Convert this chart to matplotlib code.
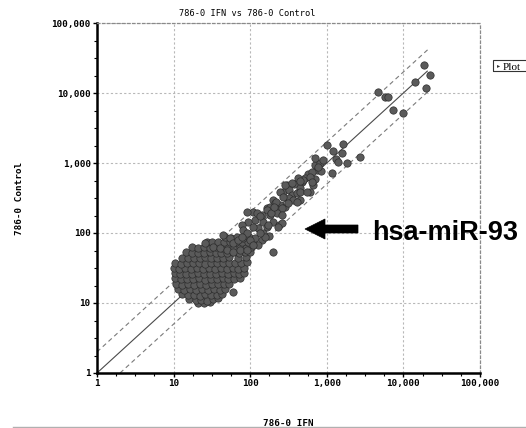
import matplotlib
matplotlib.use("Agg")
import matplotlib.pyplot as plt
from matplotlib.ticker import FixedLocator, FixedFormatter, NullFormatter
from matplotlib.patches import Polygon, Rectangle
from matplotlib.lines import Line2D

# ---------------- text ----------------
title = "786-0 IFN vs 786-0 Control"
x_label = "786-0 IFN"
y_label = "786-0 Control"
annot_label = "hsa-miR-93"
legend_label = "Plot"

major_ticks = [1, 10, 100, 1000, 10000, 100000]
major_tick_labels = ["1", "10", "100", "1,000", "10,000", "100,000"]

# fold-change guide lines: y = x, y = 2x, y = x/2
fold_change = 2
line_x_start = [1, 1, 2]
line_x_end = [20500, 21000, 22000]

# ---------------- data ----------------
# high / mid expression miRNAs (IFN, Control)
high_ifn = [18600, 22200, 14200, 19700, 4660, 5750, 6300, 7310, 9900,
            1000, 1630, 1200, 1580, 1320, 1380, 1840, 2710, 701, 815,
            750, 840, 1160, 565, 519, 480, 495, 701, 660, 370, 303, 447,
            604, 265, 318, 350, 410, 447, 318, 360, 447, 198, 211, 245,
            285, 167, 181, 701, 900, 760, 645, 604, 420, 447, 645, 555,
            285, 350, 245, 265, 410, 310, 167, 211, 260, 143, 181, 225,
            108, 91, 116, 147, 198, 94, 78, 126, 167, 235, 174, 198,
            122, 134, 187, 218, 204, 260, 108, 147, 80, 91, 143, 126,
            25.7, 44, 54.5, 59.5, 69, 78, 99, 108, 33, 40, 50, 59.5,
            73.6, 91, 59.5, 170, 260, 230, 156, 134]
high_ctrl = [25100, 18100, 14400, 11800, 10300, 8770, 8770, 5720, 5180,
             1810, 1870, 1480, 1390, 1140, 1030, 1000, 1220, 936, 1000,
             794, 764, 720, 700, 610, 535, 572, 590, 485, 500, 485, 440,
             390, 390, 411, 349, 370, 390, 316, 296, 296, 296, 270, 251,
             235, 228, 235, 1190, 1100, 870, 740, 630, 610, 550, 535, 390,
             485, 520, 390, 330, 276, 270, 213, 228, 228, 181, 181, 193,
             200, 200, 153, 143, 143, 143, 130, 118, 122, 130, 90, 53,
             193, 175, 193, 277, 235, 181, 122, 100, 110, 100, 79, 67,
             72, 94, 85, 72, 79, 88, 79, 67, 63, 61, 57, 53,
             57, 57, 14.4, 130, 139, 122, 88, 100]

# low expression cluster (IFN, Control)
cluster_ifn = [21, 25, 30,
               16, 19.5, 23, 27.5, 33, 38,
               13, 15.5, 18.5, 22, 26, 31, 37, 43,
               11.5, 13.8, 16.5, 19.7, 23.5, 28, 33.5, 40, 47,
               10.8, 12.9, 15.4, 18.5, 22, 26.5, 31.5, 37.5, 45, 53,
               10.5, 12.6, 15, 18, 21.5, 25.5, 30.5, 36.5, 43.5, 52, 62, 74,
               10.3, 12.3, 14.7, 17.6, 21, 25, 30, 36, 43, 51, 61, 72, 84,
               10, 11.8, 14.2, 17, 20.3, 24.3, 29, 34.7, 41.5, 49.5, 59, 70, 83,
               10.5, 12.5, 15, 18, 21.5, 25.7, 30.7, 36.7, 44, 52.5, 63, 75, 90,
               12.7, 15.2, 18.2, 21.8, 26, 31, 37, 44.5, 53, 69, 87,
               14.5, 17.3, 20.7, 24.7, 29.5, 35.3, 42, 50.5, 60, 72, 86, 100,
               17.5, 21, 25, 30, 36, 43, 51.5, 61.5, 73.5, 88, 103,
               27, 32, 38, 45.5, 54, 65, 78, 93, 110,
               47, 56, 67, 80, 96, 115]
cluster_ctrl = [10.1, 9.9, 10.2,
                11.3, 10.9, 11.2, 10.8, 11.4, 11.6,
                13.4, 12.8, 13.1, 12.7, 13.3, 12.9, 13.2, 13.6,
                15.9, 15.2, 15.7, 15.3, 15.8, 15.1, 15.6, 15.4, 16.0,
                18.9, 18.2, 18.7, 18.3, 18.8, 18.1, 18.6, 18.4, 18.9, 18.5,
                22.4, 21.7, 22.3, 21.8, 22.5, 21.6, 22.2, 21.9, 22.6, 21.8, 22.3, 23,
                26.5, 25.6, 26.3, 25.8, 26.6, 25.7, 26.2, 25.9, 26.7, 25.8, 26.4, 26, 27,
                31.5, 30.6, 31.3, 30.8, 31.6, 30.7, 31.2, 30.9, 31.7, 30.8, 31.4, 31, 32,
                37.6, 36.5, 37.3, 36.8, 37.7, 36.6, 37.2, 36.9, 37.8, 36.7, 37.5, 37, 38,
                44.6, 43.5, 44.3, 43.8, 44.7, 43.6, 44.2, 43.9, 44.8, 44, 45,
                52.8, 51.5, 52.4, 51.8, 52.9, 51.6, 52.3, 51.9, 53, 52, 53, 54,
                62.8, 61.4, 62.5, 61.7, 62.9, 61.5, 62.3, 61.8, 63, 62, 64,
                74.5, 73.2, 74.6, 73.5, 74.8, 73.4, 74.3, 73.8, 75,
                86.5, 85.2, 86.8, 85.5, 87, 86]

# ---------------- figure ----------------
W, H = 526, 428
fig = plt.figure(figsize=(W / 100, H / 100), dpi=100)
fig.patch.set_facecolor("white")
ax = fig.add_axes([97 / W, 1 - 373 / H, (480 - 97) / W, (373 - 23) / H])
ax.set_xscale("log")
ax.set_yscale("log")
ax.set_xlim(1, 100000)
ax.set_ylim(1, 100000)

# guide lines
for xs, xe, factor, style, col in [
        (line_x_start[0], line_x_end[0], 1, "-", "#4a4a4a"),
        (line_x_start[1], line_x_end[1], fold_change, (0, (4, 3)), "#7a7a7a"),
        (line_x_start[2], line_x_end[2], 1 / fold_change, (0, (4, 3)), "#7a7a7a")]:
    ax.plot([xs, xe], [xs * factor, xe * factor], linestyle=style,
            color=col, lw=0.8, zorder=2)

marker_kw = dict(s=28, c="#5a5a5a", edgecolors="#2e2e2e", linewidths=0.5,
                 zorder=3)
ax.scatter(cluster_ifn, cluster_ctrl, **marker_kw)
ax.scatter(high_ifn, high_ctrl, **marker_kw)

# grid & spines
ax.grid(True, which="major", color="#b8b8b8", linestyle=(0, (2, 2)), lw=0.8)
ax.set_axisbelow(True)
for s in ("left", "bottom"):
    ax.spines[s].set_linewidth(1.8)
    ax.spines[s].set_color("black")
for s in ("top", "right"):
    ax.spines[s].set_linestyle((0, (2, 2)))
    ax.spines[s].set_color("#8a8a8a")
    ax.spines[s].set_linewidth(0.9)

# ticks
minor_ticks = [10 ** (d + q / 4) for d in range(5) for q in (1, 2, 3)]
for axis in (ax.xaxis, ax.yaxis):
    axis.set_major_locator(FixedLocator(major_ticks))
    axis.set_major_formatter(FixedFormatter(major_tick_labels))
    axis.set_minor_locator(FixedLocator(minor_ticks))
    axis.set_minor_formatter(NullFormatter())
ax.tick_params(which="major", direction="out", length=3, width=1,
               color="black", labelsize=6.7, pad=1.5)
ax.tick_params(which="minor", direction="out", length=2.5, width=0.8,
               color="black")
for lab in ax.get_xticklabels() + ax.get_yticklabels():
    lab.set_fontfamily("DejaVu Sans Mono")
    lab.set_fontweight("bold")

# titles / labels
fig.text(247 / W, 1 - 14 / H, title, ha="center", va="center",
         fontsize=6.2, family="DejaVu Sans Mono")
fig.text(288 / W, 1 - 423 / H, x_label, ha="center", va="center",
         fontsize=6.7, family="DejaVu Sans Mono", weight="bold")
fig.text(20 / W, 1 - 198 / H, y_label, ha="center", va="center",
         rotation=90, fontsize=6.7, family="DejaVu Sans Mono", weight="bold")

# bottom separator line
fig.add_artist(Line2D([13 / W, 1.0], [1.5 / H, 1.5 / H], transform=fig.transFigure,
                      color="#b0b0b0", lw=1.0))

# legend stub box
fig.add_artist(Rectangle((493 / W, 1 - 71 / H), 40 / W, 11 / H,
                         transform=fig.transFigure, fill=False,
                         edgecolor="#333333", lw=0.8))
fig.text(497 / W, 1 - 66 / H, "\u25b8", ha="left", va="center",
         fontsize=4.5, family="DejaVu Sans", color="#333333")
fig.text(503 / W, 1 - 69.5 / H, legend_label, ha="left", va="baseline",
         fontsize=8, family="Liberation Serif", color="black")

# arrow (solid black polygon in figure pixels) + annotation
arrow_px = [(305, 229), (325, 219), (325, 225), (358, 225),
            (358, 233), (325, 233), (325, 239)]
fig.add_artist(Polygon([(x / W, 1 - y / H) for x, y in arrow_px], closed=True,
                       transform=fig.transFigure, facecolor="black",
                       edgecolor="black", lw=0.5))
fig.text(372 / W, 1 - 240 / H, annot_label, ha="left", va="baseline",
         fontsize=19.5, family="Liberation Sans", weight="bold")

fig.savefig("out.png", dpi=100)
